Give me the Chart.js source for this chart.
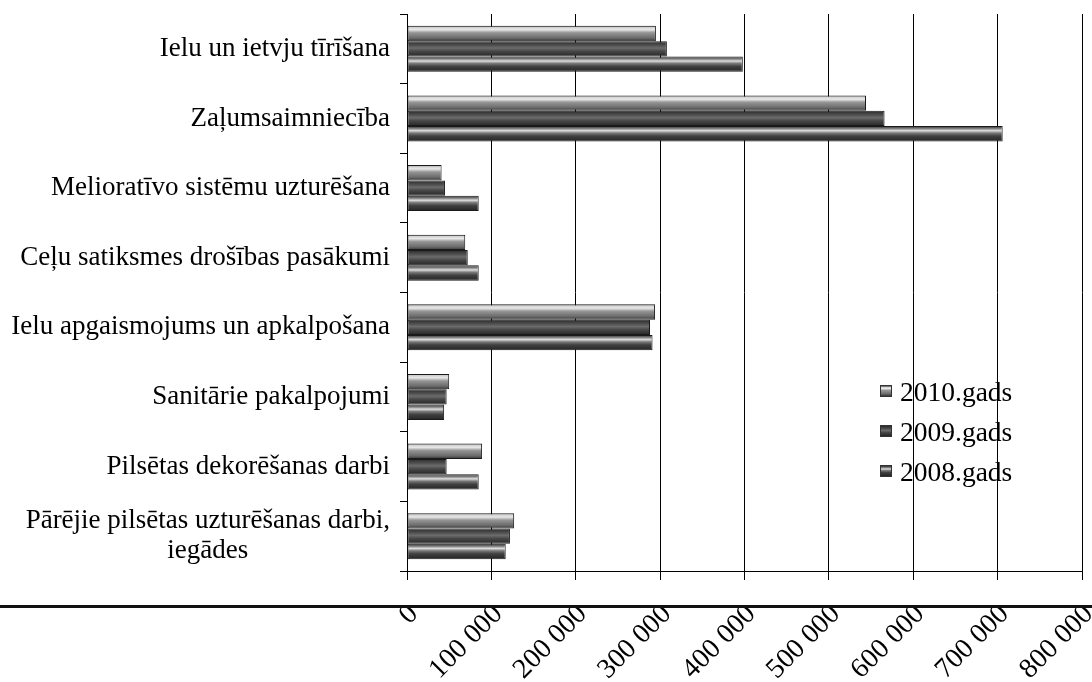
<!DOCTYPE html>
<html>
<head>
<meta charset="utf-8">
<script src="https://cdn.jsdelivr.net/npm/chart.js@4"></script>
<style>
  html, body { margin: 0; padding: 0; background: #fff; }
  #wrap { position: relative; width: 1092px; height: 682px; overflow: hidden; }
  #c { position: absolute; left: 0; top: 0; }
  #scanline { position: absolute; left: 0; top: 605px; width: 1092px; height: 3px; background: #111; }
  #legend { position: absolute; left: 880px; top: 372px; font-family: "Liberation Serif", "Times New Roman", serif; font-size: 27.5px; color: #000; }
  .row { position: relative; height: 40px; line-height: 40px; white-space: nowrap; }
  .mk { position: absolute; left: 0; top: 13px; width: 12px; height: 12px; border: 1px solid #333; box-sizing: border-box; }
  .tx { position: absolute; left: 20px; top: 0; }
</style>
</head>
<body>
<div id="wrap">
  <canvas id="c" width="1092" height="682"></canvas>
  <div id="scanline"></div>
  <div id="legend"></div>
</div>
<script>
const NB = '\u00a0';
const categories = [
  "Ielu un ietvju tīrīšana",
  "Zaļumsaimniecība",
  "Melioratīvo sistēmu uzturēšana",
  "Ceļu satiksmes drošības pasākumi",
  "Ielu apgaismojums un apkalpošana",
  "Sanitārie pakalpojumi",
  "Pilsētas dekorēšanas darbi",
  ["Pārējie pilsētas uzturēšanas darbi,", "iegādes" + NB.repeat(21)]
];
const seriesNames = ["2010.gads", "2009.gads", "2008.gads"];
const values2010 = [295000, 544000, 41000, 69000, 294000, 50000, 89000, 127000];
const values2009 = [308000, 566000, 45000, 72000, 288000, 47000, 47000, 122000];
const values2008 = [398000, 706000, 85000, 85000, 291000, 44000, 85000, 117000];
const xTickLabels = ["0", "100 000", "200 000", "300 000", "400 000", "500 000", "600 000", "700 000", "800 000"];

const shades = [
  [[0,'#262626'],[0.1,'#d0d0d0'],[0.25,'#e8e8e8'],[0.45,'#959595'],[0.8,'#6a6a6a'],[1,'#333333']],
  [[0,'#2a2a2a'],[0.25,'#4c4c4c'],[0.45,'#6c6c6c'],[0.65,'#484848'],[1,'#262626']],
  [[0,'#2a2a2a'],[0.15,'#7a7a7a'],[0.3,'#dedede'],[0.45,'#7a7a7a'],[0.65,'#404040'],[1,'#242424']]
];
const CAT_PCT = 0.66;

function shadeFill(di) {
  return function(c) {
    const chart = c.chart;
    if (c.type !== 'data' || !chart.chartArea || !chart.scales.y) return shades[di][2][1];
    const ys = chart.scales.y;
    const center = ys.getPixelForValue(c.dataIndex);
    const catH = (ys.bottom - ys.top) / categories.length;
    const bh = catH * CAT_PCT / seriesNames.length;
    const top = center - catH * CAT_PCT / 2 + di * bh;
    const g = chart.ctx.createLinearGradient(0, top, 0, top + bh);
    shades[di].forEach(s => g.addColorStop(s[0], s[1]));
    return g;
  };
}

const serif = "'Liberation Serif', 'Times New Roman', serif";
const seriesValues = [values2010, values2009, values2008];

new Chart(document.getElementById('c'), {
  type: 'bar',
  data: {
    labels: categories,
    datasets: seriesNames.map((n, i) => ({
      label: n,
      data: seriesValues[i],
      backgroundColor: shadeFill(i),
      borderColor: '#1a1a1a',
      borderWidth: 1,
      borderSkipped: false,
      categoryPercentage: CAT_PCT,
      barPercentage: 1.0
    }))
  },
  options: {
    indexAxis: 'y',
    responsive: false,
    animation: false,
    devicePixelRatio: 1,
    layout: { padding: { top: 14, right: 10, left: 0, bottom: 0 } },
    plugins: { legend: { display: false }, tooltip: { enabled: false } },
    scales: {
      x: {
        type: 'linear',
        min: 0, max: 800000,
        afterBuildTicks: s => { s.ticks = xTickLabels.map((t, i) => ({ value: i * 100000 })); },
        afterFit: s => { s.height = 682 - 571; s.paddingLeft = 0; s.paddingRight = 0; s.paddingTop = 0; s.paddingBottom = 0; },
        ticks: {
          callback: (v, i) => xTickLabels[i],
          color: '#000',
          font: { family: serif, size: 28 },
          minRotation: 45, maxRotation: 45,
          padding: 18,
          labelOffset: 7,
          autoSkip: false
        },
        grid: { color: '#000', lineWidth: 1, tickLength: 9 },
        border: { display: true, color: '#000', width: 1 }
      },
      y: {
        afterFit: s => { s.width = 407; s.paddingTop = 0; s.paddingBottom = 0; s.paddingLeft = 0; s.paddingRight = 0; },
        ticks: {
          color: '#000',
          font: { family: serif, size: 27, lineHeight: 1.1 },
          padding: 10,
          autoSkip: false
        },
        grid: { drawOnChartArea: false, color: '#000', tickLength: 7 },
        border: { display: true, color: '#000', width: 1 }
      }
    }
  }
});

const legend = document.getElementById('legend');
seriesNames.forEach((n, i) => {
  const row = document.createElement('div');
  row.className = 'row';
  const mk = document.createElement('span');
  mk.className = 'mk';
  mk.style.background = 'linear-gradient(to bottom,' + shades[i].map(s => s[1] + ' ' + (s[0]*100) + '%').join(',') + ')';
  const tx = document.createElement('span');
  tx.className = 'tx';
  tx.textContent = n;
  row.appendChild(mk); row.appendChild(tx);
  legend.appendChild(row);
});
</script>
</body>
</html>
